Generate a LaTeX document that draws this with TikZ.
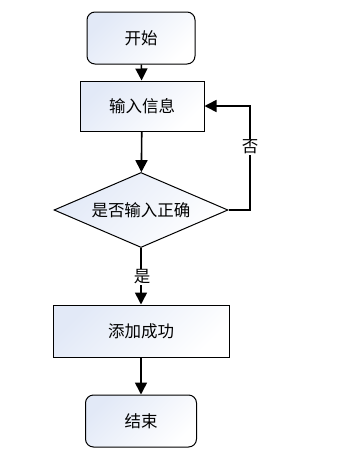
\documentclass[tikz,border=0pt]{standalone}
\usepackage{fontspec}
\newfontfamily\cjk{Noto Sans CJK SC}
\usetikzlibrary{arrows.meta,shapes.geometric}
\definecolor{boxblue}{RGB}{226,233,247}
\tikzset{
	boxfill/.style={top color=boxblue, bottom color=white, shading angle=45},
	terminal/.style={draw=black, line width=1pt, rounded corners=8pt, boxfill,
		minimum width=108pt, minimum height=52pt, font=\cjk\fontsize{16.5}{18}\selectfont},
	process/.style={draw=black, line width=1pt, boxfill,
		minimum height=50pt, font=\cjk\fontsize{16.5}{18}\selectfont},
	decision/.style={draw=black, line width=1pt, diamond, aspect=2.32, inner sep=0pt, boxfill,
		minimum width=174pt, minimum height=75pt, font=\cjk\fontsize{16.5}{18}\selectfont},
	flow/.style={draw=black, line width=1.6pt, -{Triangle[length=12pt,width=12pt]}},
	branch/.style={fill=white, inner sep=1pt, font=\cjk\fontsize{16.5}{18}\selectfont},
}
\begin{document}
\begin{tikzpicture}[x=1pt,y=-1pt]
\useasboundingbox (0,0) rectangle (356,456);
% boxes
\node[terminal] (start) at (141,38) {开始};
\node[process, minimum width=124pt] (input) at (142,106) {输入信息};
\node[decision] (check) at (141,210) {是否输入正确};
\node[process, minimum width=176pt, minimum height=52pt] (add) at (141,331) {添加成功};
\node[terminal, minimum width=111pt] (finish) at (141,421) {结束};
% arrows
\coordinate (back) at (250,106);
\draw[flow] (start) -- (input);
\draw[flow] (input) -- (check);
\draw[flow] (check) -- (add);
\draw[flow] (add) -- (finish);
\draw[flow] (check.east) -| (back) -- (input.east);
% labels
\node[branch] (no) at (250,147) {否};
\node[branch] (yes) at (142,277) {是};
\end{tikzpicture}
\end{document}
